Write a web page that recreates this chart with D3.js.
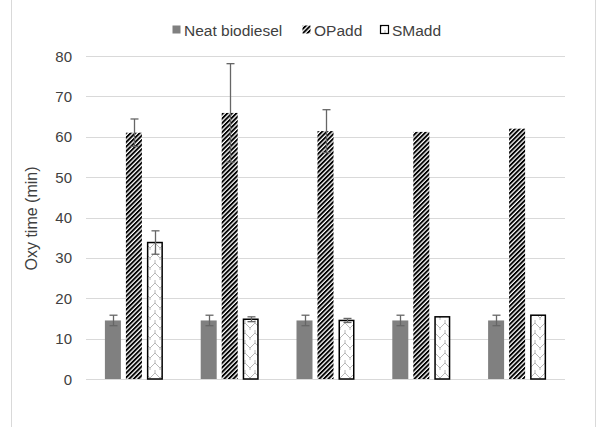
<!DOCTYPE html>
<html><head><meta charset="utf-8">
<script src="https://cdn.jsdelivr.net/npm/d3@7"></script>
<style>body{margin:0;background:#fff;} svg{display:block;font-family:"Liberation Sans",Arial,sans-serif;}</style>
</head><body><svg id="chart"></svg>
<script>
const categories=['1','2','3','4','5'];
const seriesNames=['Neat biodiesel','OPadd','SMadd'];
const neat=[14.5,14.5,14.5,14.5,14.5];
const neatErr=[1.3,1.3,1.3,1.3,1.3];
const opadd=[61.0,65.9,61.4,61.2,62.0];
const opaddErr=[3.4,12.2,5.3,0,0];
const smadd=[33.8,14.8,14.5,15.4,15.8];
const smaddErr=[2.9,0.6,0.5,0,0];
const yTicks=[0,10,20,30,40,50,60,70,80];

const W=604,H=427;
const svg=d3.select('#chart').attr('width',W).attr('height',H);
const m={left:86,right:39,top:56,bottom:48};
const x=d3.scaleBand().domain(categories).range([m.left,W-m.right]);
const y=d3.scaleLinear().domain([0,80]).range([379,56]);
const inner=d3.scaleOrdinal().domain(seriesNames).range([-21,0,21]);
const barW=16;

const defs=svg.append('defs');
const p1=defs.append('pattern').attr('id','stripe').attr('patternUnits','userSpaceOnUse').attr('width',3.2).attr('height',4).attr('patternTransform','rotate(45)');
p1.append('rect').attr('width',3.2).attr('height',4).attr('fill','#fff');
p1.append('rect').attr('width',1.9).attr('height',4).attr('fill','#000');
const p2=defs.append('pattern').attr('id','zig').attr('patternUnits','userSpaceOnUse').attr('width',10).attr('height',10);
p2.append('rect').attr('width',10).attr('height',10).attr('fill','#fff');
p2.append('path').attr('d','M0,8 L5,3 L10,8 M5,3 L5,-2 M0,8 L0,13 M10,8 L10,13').attr('stroke','#b0b0b0').attr('stroke-width',0.9).attr('fill','none');

// frame
svg.append('rect').attr('x',11.5).attr('y',-2).attr('width',584).attr('height',H+4).attr('fill','none').attr('stroke','#d9d9d9');

svg.append('g').selectAll('line').data(yTicks).enter().append('line')
  .attr('x1',m.left).attr('x2',W-m.right).attr('y1',d=>Math.round(y(d))+0.5).attr('y2',d=>Math.round(y(d))+0.5)
  .attr('stroke','#d9d9d9').attr('stroke-width',1);
svg.append('g').selectAll('text').data(yTicks).enter().append('text')
  .attr('x',72).attr('y',d=>y(d)+5.5).attr('text-anchor','end').attr('font-size',15).attr('fill','#404040').text(d=>d);
svg.append('text').attr('transform','translate(37,'+(y(40)+1)+') rotate(-90)').attr('text-anchor','middle')
  .attr('font-size',16).attr('fill','#404040').text('Oxy time (min)');

const series=[
  {name:'Neat biodiesel',vals:neat,err:neatErr,fill:'#808080',stroke:'none'},
  {name:'OPadd',vals:opadd,err:opaddErr,fill:'url(#stripe)',stroke:'none'},
  {name:'SMadd',vals:smadd,err:smaddErr,fill:'url(#zig)',stroke:'#000'}
];
series.forEach(s=>{
  const g=svg.append('g');
  const cx=(d,i)=>x(categories[i])+x.bandwidth()/2+inner(s.name);
  g.selectAll('rect').data(s.vals).enter().append('rect')
    .attr('x',(d,i)=>cx(d,i)-barW/2+(s.stroke==='none'?0:0.75)).attr('width',barW-(s.stroke==='none'?0:1.5))
    .attr('y',d=>y(d)).attr('height',d=>y(0)-y(d))
    .attr('fill',s.fill).attr('stroke',s.stroke).attr('stroke-width',1.5);
  s.vals.forEach((v,i)=>{
    const e=s.err[i]; if(!e) return;
    const c=Math.round(cx(v,i))+0.5;
    g.append('line').attr('x1',c).attr('x2',c).attr('y1',y(v+e)).attr('y2',y(v-e)).attr('stroke','#666').attr('stroke-width',1.3);
    [v+e,v-e].forEach(t=>g.append('line').attr('x1',c-4).attr('x2',c+4).attr('y1',y(t)).attr('y2',y(t)).attr('stroke','#666').attr('stroke-width',1.3));
  });
});

// legend
const legX=[172,302,380];
const lg=svg.append('g');
series.forEach((s,i)=>{
  lg.append('rect').attr('x',legX[i]+0.5).attr('y',25.5).attr('width',8).attr('height',8).attr('fill',s.fill)
    .attr('stroke',s.stroke).attr('stroke-width',1.2);
  lg.append('text').attr('x',legX[i]+12).attr('y',35.5).attr('font-size',15.5).attr('fill','#404040').text(s.name);
});
</script></body></html>
